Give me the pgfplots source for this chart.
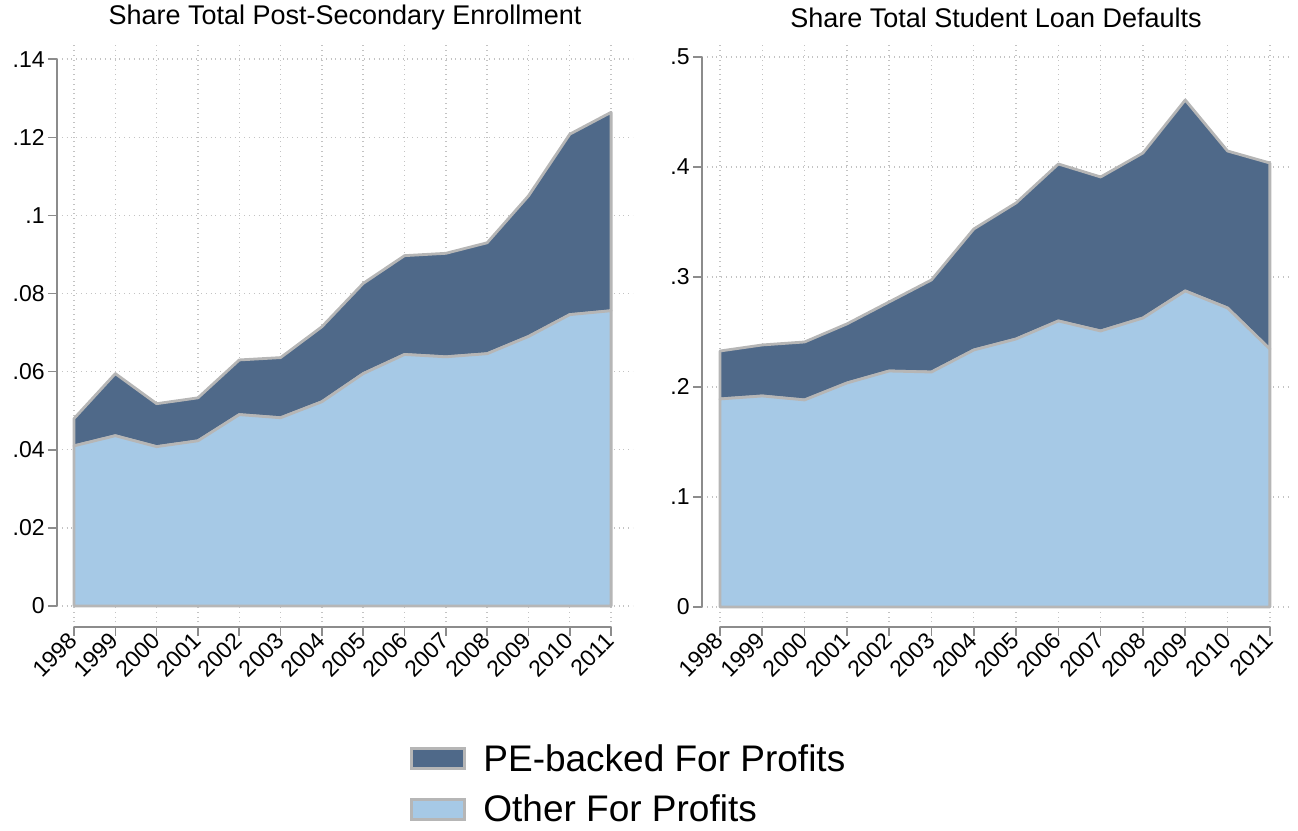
\documentclass[border=0pt]{standalone}
\usepackage{pgfplots}
\pgfplotsset{compat=1.18}
\usepackage{pgfplotstable}
\usepackage{fontspec}
\setmainfont{Liberation Sans}
\definecolor{darkarea}{RGB}{79,105,137}
\definecolor{lightarea}{RGB}{166,201,230}
\definecolor{edgegray}{RGB}{182,182,182}
\definecolor{axisgray}{RGB}{140,140,140}
\definecolor{gridgray}{RGB}{195,195,195}

\pgfplotstableread{
year other pe
1998 0.0410 0.0070
1999 0.0436 0.0159
2000 0.0408 0.0110
2001 0.0423 0.0110
2002 0.0490 0.0140
2003 0.0482 0.0154
2004 0.0523 0.0192
2005 0.0595 0.0231
2006 0.0644 0.0253
2007 0.0638 0.0265
2008 0.0646 0.0284
2009 0.0690 0.0360
2010 0.0746 0.0462
2011 0.0756 0.0508
}\enroll

\pgfplotstableread{
year other pe
1998 0.1891 0.0436
1999 0.1918 0.0464
2000 0.1882 0.0527
2001 0.2036 0.0537
2002 0.2145 0.0628
2003 0.2136 0.0837
2004 0.2336 0.1100
2005 0.2436 0.1237
2006 0.2600 0.1427
2007 0.2509 0.1400
2008 0.2627 0.1500
2009 0.2873 0.1736
2010 0.2718 0.1427
2011 0.2345 0.1691
}\defaults

\pgfplotsset{
  stataaxis/.style={
    scale only axis, height=292.5pt,
    axis x line*=bottom, axis y line*=left,
    axis line style={draw=none},
    tick align=outside,
    major tick length=4.5pt,
    tick style={axisgray, line width=0.8pt},
    xtick={1998,1999,...,2011},
    xticklabel style={rotate=45, anchor=east, inner sep=0.5pt},
    yticklabel style={inner sep=1.5pt},
    /pgf/number format/set thousands separator={},
    /pgf/number format/assume math mode=true,
    tick label style={font=\fontsize{11.5}{13}\selectfont, black},
    grid=major,
    grid style={gridgray, dotted, line width=0.7pt},
    stack plots=y,
    clip=false,
  },
  otherstyle/.style={fill=lightarea, draw=edgegray, line width=1.4pt, line join=round},
  pestyle/.style={fill=darkarea, draw=edgegray, line width=1.4pt, line join=round},
}

\begin{document}
\begin{tikzpicture}
\useasboundingbox (0,0) rectangle (649pt,415.5pt);

\begin{axis}[stataaxis,
  at={(28.5pt,102pt)}, anchor=south west,
  width=288pt,
  xmin=1997.588, xmax=2011.53,
  ymin=-0.00537, ymax=0.1444,
  ytick={0,0.02,0.04,0.06,0.08,0.1,0.12,0.14},
  yticklabels={0,.02,.04,.06,.08,.1,.12,.14},
]
\addplot[otherstyle] table[x=year, y=other] {\enroll} \closedcycle;
\addplot[pestyle] table[x=year, y=pe] {\enroll} \closedcycle;
\draw[axisgray, line width=1pt] (axis cs:1997.588,0) -- (axis cs:1997.588,0.14);
\draw[axisgray, line width=1pt] (axis cs:1998,-0.00537) -- (axis cs:2011,-0.00537);
\end{axis}

\begin{axis}[stataaxis,
  at={(351pt,102pt)}, anchor=south west,
  width=294.5pt,
  xmin=1997.575, xmax=2011.5,
  ymin=-0.0182, ymax=0.5136,
  ytick={0,0.1,0.2,0.3,0.4,0.5},
  yticklabels={0,.1,.2,.3,.4,.5},
]
\addplot[otherstyle] table[x=year, y=other] {\defaults} \closedcycle;
\addplot[pestyle] table[x=year, y=pe] {\defaults} \closedcycle;
\draw[axisgray, line width=1pt] (axis cs:1997.575,0) -- (axis cs:1997.575,0.5);
\draw[axisgray, line width=1pt] (axis cs:1998,-0.0182) -- (axis cs:2011,-0.0182);
\end{axis}

\node[font=\fontsize{13.5}{16}\selectfont] at (172.5pt,406.5pt) {Share Total Post-Secondary Enrollment};
\node[font=\fontsize{13.5}{16}\selectfont] at (498pt,406.5pt) {Share Total Student Loan Defaults};

% legend
\draw[fill=darkarea, draw=edgegray, line width=1.5pt] (205.5pt,31pt) rectangle (232pt,41pt);
\draw[fill=lightarea, draw=edgegray, line width=1.5pt] (205.5pt,5.5pt) rectangle (232pt,15.5pt);
\node[font=\fontsize{18.5}{22}\selectfont, anchor=base west, inner sep=0pt] at (241.5pt,29.5pt) {PE-backed For Profits};
\node[font=\fontsize{18.5}{22}\selectfont, anchor=base west, inner sep=0pt] at (241.5pt,4.5pt) {Other For Profits};
\end{tikzpicture}
\end{document}
